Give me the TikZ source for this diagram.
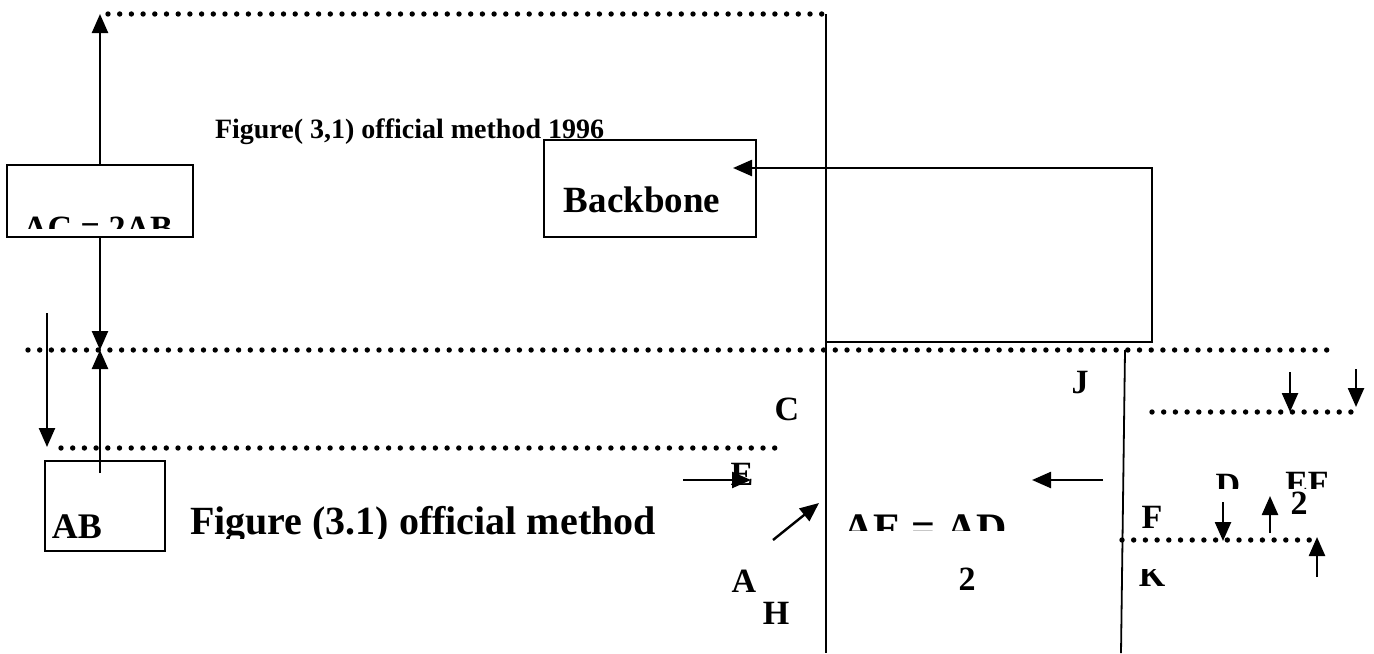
\documentclass[tikz,border=0pt]{standalone}
\usepackage{fontspec}
\setmainfont{Liberation Serif}
\usetikzlibrary{arrows.meta}
\begin{document}
\begin{tikzpicture}[x=0.5pt,y=-0.5pt,
  every node/.style={inner sep=0pt, outer sep=0pt},
  box/.style={draw, line width=1.1pt},
  wire/.style={line width=1.2pt},
  thinwire/.style={line width=0.9pt},
  dots/.style={line width=2.7pt, line cap=round, dash pattern=on 0pt off 5.85pt},
  arr/.style={line width=1.2pt, -{Triangle[length=9.5pt,width=8pt]}},
  lbl/.style={font=\fontsize{17}{17}\selectfont\bfseries, anchor=base},
  title/.style={font=\fontsize{14}{14}\selectfont\bfseries, anchor=base west},
  caption/.style={font=\fontsize{20}{20}\selectfont\bfseries, anchor=base west}
]
\useasboundingbox (0,0) rectangle (1374,653);

% ---------- boxes ----------
\node[box, minimum width=93pt, minimum height=36pt] (acbox) at (100,201) {};
\node[box, minimum width=106pt, minimum height=48.5pt] (bbbox) at (650,188.5) {};
\node[box, minimum width=163pt, minimum height=87pt] (bigbox) at (989,255) {};
\node[box, minimum width=60pt, minimum height=45pt] (abbox) at (105,506) {};

% ---------- anchor points ----------
\coordinate (topL) at (100,14);
\coordinate (topR) at (826,14);
\coordinate (botM) at (826,653);
\coordinate (midL) at (28,350);
\coordinate (midR) at (1330,350);
\coordinate (midX) at (100,350);
\coordinate (lowL) at (61,448);
\coordinate (lowR) at (775,448);
\coordinate (rdL) at (1152,412);
\coordinate (rdR) at (1352,412);
\coordinate (kdL) at (1122,540);
\coordinate (kdR) at (1320,540);
\coordinate (rvT) at (1125,350);
\coordinate (rvB) at (1121,653);
\coordinate (abTop) at (100,473);
\coordinate (ldA) at (47,313);
\coordinate (ldB) at (47,447);
\coordinate (bbTip) at (733,168);
\coordinate (bbTail) at (826,168);
\coordinate (eA) at (683,480);
\coordinate (eB) at (751,480);
\coordinate (hA) at (773,540);
\coordinate (hB) at (819,503);
\coordinate (jA) at (1103,480);
\coordinate (jB) at (1032,480);
\coordinate (r1A) at (1290,372);
\coordinate (r1B) at (1290,412);
\coordinate (r2A) at (1356,369);
\coordinate (r2B) at (1356,407);
\coordinate (d1A) at (1223,502);
\coordinate (d1B) at (1223,541);
\coordinate (u1A) at (1270,533);
\coordinate (u1B) at (1270,496);
\coordinate (u2A) at (1317,577);
\coordinate (u2B) at (1317,537);

% ---------- dotted levels ----------
\draw[dots] (108,14) -- (topR);
\draw[dots] (midL) -- (midR);
\draw[dots] (lowL) -- (lowR);
\draw[dots] (rdL) -- (rdR);
\draw[dots] (kdL) -- (kdR);

% ---------- solid lines ----------
\draw[wire] (topR) -- (botM);
\draw[thinwire] (rvT) -- (rvB);

% ---------- arrows ----------
\draw[arr] (acbox.north) -- (topL);
\draw[arr] (acbox.south) -- (midX);
\draw[arr] (abTop) -- (midX);
\draw[arr] (ldA) -- (ldB);
\draw[arr] (bbTail) -- (bbTip);
\draw[arr] (eA) -- (eB);
\draw[arr] (hA) -- (hB);
\draw[arr] (jA) -- (jB);
\draw[arr] (r1A) -- (r1B);
\draw[arr] (r2A) -- (r2B);
\draw[arr] (d1A) -- (d1B);
\draw[arr] (u1A) -- (u1B);
\draw[arr] (u2A) -- (u2B);

% ---------- texts ----------
\node[title] (t1) at (215,138) {Figure( 3,1) official method 1996};
\node[lbl, font=\fontsize{18.5}{18.5}\selectfont\bfseries] (bbtxt) at (642,212) {Backbone};
\begin{scope}
  \clip (10,168) rectangle (190,228);
  \node[lbl, font=\fontsize{17}{17}\selectfont\bfseries] (actxt) at (98,239) {AC = 2AB};
\end{scope}
\node[lbl, font=\fontsize{18}{18}\selectfont\bfseries] (abtxt) at (77,538) {AB};
\begin{scope}
  \clip (180,490) rectangle (700,538);
  \node[caption] (t2) at (190,534) {Figure (3.1) official method};
\end{scope}
\node[lbl] (cC) at (787,420) {C};
\begin{scope}
  \clip (720,461) rectangle (770,500);
  \node[lbl] (cE) at (742,485) {E};
\end{scope}
\node[lbl] (cA) at (744,592) {A};
\node[lbl] (cH) at (776,624) {H};
\node[lbl] (cJ) at (1080,393) {J};
\begin{scope}
  \clip (830,500) rectangle (1020,530);
  \node[lbl, font=\fontsize{21}{21}\selectfont\bfseries] (aead) at (925,542) {AE = AD};
\end{scope}
\node[lbl] (two1) at (967,590) {2};
\begin{scope}
  \clip (1200,460) rectangle (1340,488);
  \node[lbl] (cD) at (1228,496) {D};
  \node[lbl] (cEF) at (1307,494) {EF};
\end{scope}
\node[lbl] (two2) at (1299,514) {2};
\node[lbl] (cF) at (1152,528) {F};
\begin{scope}
  \clip (1130,569) rectangle (1180,600);
  \node[lbl] (cK) at (1152,586) {K};
\end{scope}
\end{tikzpicture}
\end{document}
